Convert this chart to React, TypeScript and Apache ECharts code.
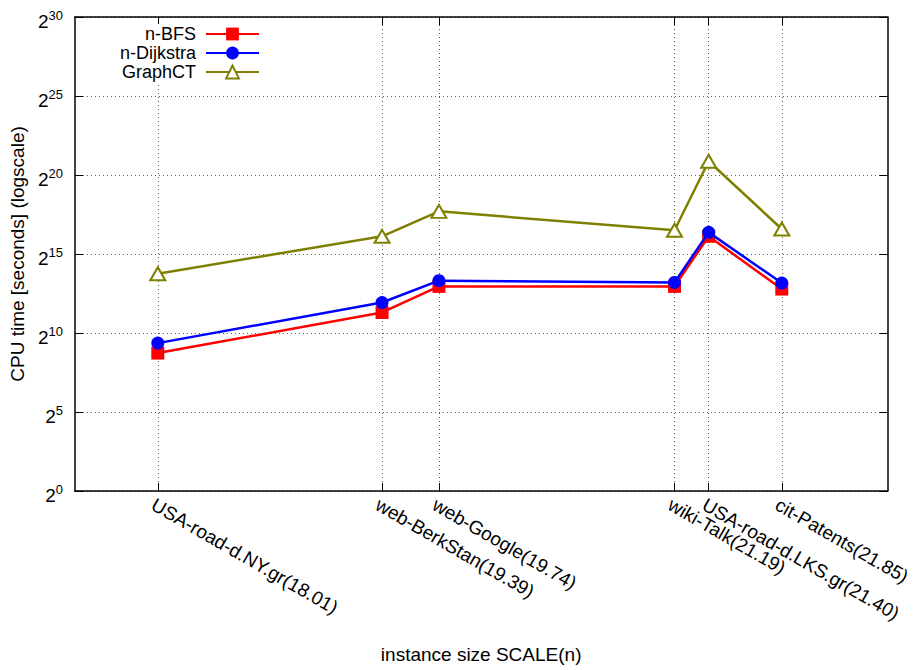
import React, { useEffect, useRef } from "react";
import * as echarts from "echarts";

// instance sizes (SCALE n) and instance names
const instanceNames = [
  "USA-road-d.NY.gr",
  "web-BerkStan",
  "web-Google",
  "wiki-Talk",
  "USA-road-d.LKS.gr",
  "cit-Patents",
];
const instanceScales = [18.01, 19.39, 19.74, 21.19, 21.4, 21.85];

// CPU time as log2(seconds)
const bfsLog2 = [8.73, 11.3, 12.95, 12.95, 16.12, 12.78];
const dijkstraLog2 = [9.36, 11.93, 13.31, 13.2, 16.37, 13.16];
const graphctLog2 = [13.75, 16.12, 17.7, 16.5, 20.87, 16.58];

const seriesNames = ["n-BFS", "n-Dijkstra", "GraphCT"];
const yTickExponents = [0, 5, 10, 15, 20, 25, 30];

const FONT = "'Liberation Sans', Arial, Helvetica, sans-serif";
const FS = 19;
const LEGEND_FS = 18;

export default function App() {
  const ref = useRef<HTMLDivElement>(null);

  useEffect(() => {
    document.body.style.margin = "0";
    if (!ref.current) return;
    const chart = echarts.init(ref.current, undefined, { renderer: "svg" });

    const labelFor = (v: number) => {
      const i = instanceScales.findIndex((s) => Math.abs(s - v) < 1e-6);
      return i >= 0 ? `${instanceNames[i]}(${instanceScales[i].toFixed(2)})` : "";
    };

    const gridDot = { type: [1, 3] as any, color: "#555", width: 1 };
    const border = { color: "#000", width: 1.5 };
    const legendRowY = [34, 53, 72];

    const option: any = {
      animation: false,
      backgroundColor: "#fff",
      textStyle: { fontFamily: FONT },
      grid: { left: 73, right: 22, top: 17, bottom: 179, containLabel: false },
      graphic: [
        {
          type: "rect",
          z: 3,
          shape: { x: 112, y: 24, width: 150, height: 58 },
          style: { fill: "#fff" },
        },
        ...seriesNames.map((n, i) => ({
          type: "text",
          z: 5,
          x: 196,
          y: legendRowY[i],
          style: {
            text: n,
            align: "right",
            verticalAlign: "middle",
            fontSize: LEGEND_FS,
            fontFamily: FONT,
            fill: "#000",
          },
        })),
      ],
      xAxis: [
        {
          type: "value",
          min: 17.5,
          max: 22.5,
          position: "bottom",
          name: "instance size SCALE(n)",
          nameLocation: "middle",
          nameGap: 154,
          nameTextStyle: { fontSize: FS, color: "#000", fontFamily: FONT },
          axisLine: { show: true, onZero: false, lineStyle: border },
          axisTick: {
            show: true,
            inside: true,
            length: 8,
            customValues: instanceScales,
            lineStyle: { color: "#000", width: 1 },
          },
          axisLabel: {
            customValues: instanceScales,
            rotate: -30,
            formatter: (v: number) => labelFor(v),
            fontSize: FS,
            color: "#000",
            fontFamily: FONT,
            margin: 4,
            align: "left",
            verticalAlign: "top",
          },
          splitLine: { show: true, lineStyle: gridDot },
        },
        {
          type: "value",
          min: 17.5,
          max: 22.5,
          position: "top",
          axisLine: { show: true, onZero: false, lineStyle: border },
          axisTick: {
            show: true,
            inside: true,
            length: 8,
            customValues: instanceScales,
            lineStyle: { color: "#000", width: 1 },
          },
          axisLabel: { show: false },
          splitLine: { show: false },
        },
      ],
      yAxis: [
        {
          type: "value",
          min: 0,
          max: 30,
          interval: 5,
          position: "left",
          name: "CPU time [seconds] (logscale)",
          nameLocation: "middle",
          nameGap: 46,
          nameTextStyle: { fontSize: FS, color: "#000", fontFamily: FONT },
          axisLine: { show: true, onZero: false, lineStyle: border },
          axisTick: { show: true, inside: true, length: 8, lineStyle: { color: "#000", width: 1 } },
          axisLabel: {
            margin: 12,
            padding: [6, 0, 0, 0],
            formatter: (v: number) =>
              yTickExponents.includes(v) ? `{b|2}{e|${v}}` : "",
            rich: {
              b: { fontSize: FS, lineHeight: 22, verticalAlign: "bottom", color: "#000", fontFamily: FONT },
              e: { fontSize: 13, lineHeight: 9, verticalAlign: "top", color: "#000", fontFamily: FONT },
            },
          },
          splitLine: { show: true, lineStyle: gridDot },
        },
        {
          type: "value",
          min: 0,
          max: 30,
          interval: 5,
          position: "right",
          axisLine: { show: true, onZero: false, lineStyle: border },
          axisTick: { show: true, inside: true, length: 8, lineStyle: { color: "#000", width: 1 } },
          axisLabel: { show: false },
          splitLine: { show: false },
        },
      ],
      legend: seriesNames.map((n, i) => ({
        data: [n],
        orient: "vertical",
        align: "right",
        right: 654,
        top: legendRowY[i] - 8,
        itemWidth: 53,
        itemHeight: 16,
        itemGap: 0,
        padding: 0,
        selectedMode: false,
        formatter: () => "",
        z: 6,
      })),
      series: [
        {
          name: seriesNames[0],
          type: "line",
          data: instanceScales.map((x, i) => [x, bfsLog2[i]]),
          symbol: "rect",
          symbolSize: 13,
          lineStyle: { color: "#ff0000", width: 2.5 },
          itemStyle: { color: "#ff0000" },
          z: 3,
        },
        {
          name: seriesNames[1],
          type: "line",
          data: instanceScales.map((x, i) => [x, dijkstraLog2[i]]),
          symbol: "circle",
          symbolSize: 13,
          lineStyle: { color: "#0000ff", width: 2.5 },
          itemStyle: { color: "#0000ff" },
          z: 4,
        },
        {
          name: seriesNames[2],
          type: "line",
          data: instanceScales.map((x, i) => [x, graphctLog2[i]]),
          symbol: "emptyTriangle",
          symbolSize: [15, 13],
          lineStyle: { color: "#808000", width: 2.5 },
          itemStyle: { color: "#808000", borderColor: "#808000", borderWidth: 2.5 },
          z: 5,
        },
      ],
    };

    chart.setOption(option);
    return () => chart.dispose();
  }, []);

  return (
    <div
      ref={ref}
      style={{ position: "absolute", left: 0, top: 0, width: 914, height: 670, background: "#fff" }}
    />
  );
}
